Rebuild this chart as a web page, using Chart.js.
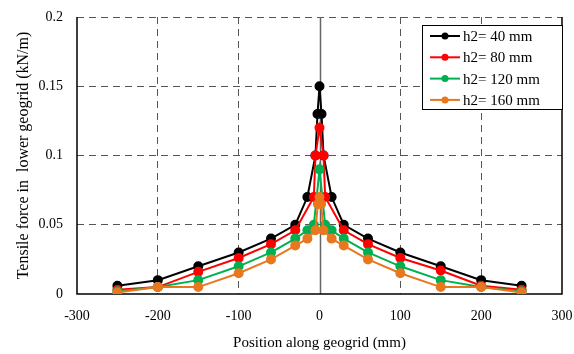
<!DOCTYPE html>
<html>
<head>
<meta charset="utf-8">
<script src="https://cdn.jsdelivr.net/npm/chart.js@4"></script>
<style>
  html, body { margin: 0; padding: 0; background: #fff; }
  #wrap { width: 574px; height: 354px; }
</style>
</head>
<body>
<div id="wrap"><canvas id="c" width="574" height="354"></canvas></div>
<script>
// data
const labels = ["h2= 40 mm", "h2= 80 mm", "h2= 120 mm", "h2= 160 mm"];
const colors = ["#000000", "#ff0000", "#00b050", "#e8771e"];

const xH40 = [-250, -200, -150, -100, -60, -30, -15, -5, -2.5, 0, 2.5, 5, 15, 30, 60, 100, 150, 200, 250];
const yH40 = [0.006, 0.01, 0.02, 0.03, 0.04, 0.05, 0.07, 0.1, 0.13, 0.15, 0.13, 0.1, 0.07, 0.05, 0.04, 0.03, 0.02, 0.01, 0.006];

const xH80 = [-250, -200, -150, -100, -60, -30, -7, -5, 0, 5, 7, 30, 60, 100, 150, 200, 250];
const yH80 = [0.003, 0.005, 0.016, 0.026, 0.036, 0.046, 0.07, 0.1, 0.12, 0.1, 0.07, 0.046, 0.036, 0.026, 0.017, 0.006, 0.003];

const xH120 = [-250, -200, -150, -100, -60, -30, -15, -7, 0, 7, 15, 30, 60, 100, 150, 200, 250];
const yH120 = [0.002, 0.005, 0.01, 0.02, 0.03, 0.04, 0.046, 0.05, 0.09, 0.05, 0.046, 0.04, 0.03, 0.02, 0.01, 0.005, 0.002];

const xH160 = [-250, -200, -150, -100, -60, -30, -15, -5, -2, 0, 2, 5, 15, 30, 60, 100, 150, 200, 250];
const yH160 = [0.001, 0.005, 0.005, 0.015, 0.025, 0.035, 0.04, 0.046, 0.065, 0.07, 0.065, 0.046, 0.04, 0.035, 0.025, 0.015, 0.005, 0.005, 0.001];

const xTicks = [-300, -200, -100, 0, 100, 200, 300];
const yTicks = [0, 0.05, 0.1, 0.15, 0.2];

const series = [[xH40, yH40], [xH80, yH80], [xH120, yH120], [xH160, yH160]];
const serif = "'Liberation Serif', 'DejaVu Serif', serif";

// rahmen, nulllinie und legende
const frame = {
  id: "frame",
  beforeDatasetsDraw(chart) {
    const { ctx, chartArea: a, scales } = chart;
    ctx.save();
    const x0 = Math.round(scales.x.getPixelForValue(0)) + 0.5;
    ctx.strokeStyle = "#666";
    ctx.lineWidth = 1.5;
    ctx.beginPath();
    ctx.moveTo(x0, a.top);
    ctx.lineTo(x0, a.bottom);
    ctx.stroke();
    ctx.strokeStyle = "#000";
    ctx.lineWidth = 1.5;
    ctx.beginPath();
    ctx.moveTo(a.left, a.top);
    ctx.lineTo(a.left, a.bottom);
    ctx.lineTo(a.right, a.bottom);
    ctx.lineTo(a.right, a.top);
    ctx.stroke();
    ctx.restore();
  },
  afterDraw(chart) {
    const { ctx, chartArea: a } = chart;
    const bx = 422, by = 25, bw = a.right - 422, bh = 84;
    ctx.save();
    ctx.fillStyle = "#fff";
    ctx.fillRect(bx, by, bw, bh);
    ctx.strokeStyle = "#000";
    ctx.lineWidth = 1;
    ctx.strokeRect(bx + 0.5, by + 0.5, bw, bh);
    ctx.font = "15px " + serif;
    ctx.textBaseline = "middle";
    labels.forEach((lab, i) => {
      const y = by + 11 + i * 21.3;
      ctx.strokeStyle = colors[i];
      ctx.lineWidth = 2;
      ctx.beginPath();
      ctx.moveTo(430, y);
      ctx.lineTo(460, y);
      ctx.stroke();
      ctx.fillStyle = colors[i];
      ctx.beginPath();
      ctx.arc(445, y, 3.5, 0, Math.PI * 2);
      ctx.fill();
      ctx.fillStyle = "#000";
      ctx.fillText(lab, 463, y + 1);
    });
    ctx.restore();
  }
};

const datasets = series.map((s, i) => ({
  label: labels[i],
  data: s[0].map((x, k) => ({ x: x, y: s[1][k] })),
  borderColor: colors[i],
  backgroundColor: colors[i],
  borderWidth: 2,
  pointRadius: 4,
  pointHoverRadius: 4,
  showLine: true,
  order: 3 - i
}));

const dash = [7, 5];

new Chart(document.getElementById("c"), {
  type: "scatter",
  data: { datasets: datasets },
  plugins: [frame],
  options: {
    responsive: false,
    animation: false,
    layout: { padding: { left: 0, right: 12, top: 17, bottom: 0 } },
    plugins: { legend: { display: false }, tooltip: { enabled: false } },
    scales: {
      x: {
        type: "linear",
        min: -300,
        max: 300,
        afterBuildTicks: s => { s.ticks = xTicks.map(v => ({ value: v })); },
        afterFit: s => { s.height = 60; s.paddingLeft = 0; s.paddingRight = 0; },
        ticks: { color: "#000", font: { family: serif, size: 14 }, padding: 14, maxRotation: 0 },
        grid: {
          drawTicks: false,
          color: c => (c.tick && (c.tick.value === 0 || Math.abs(c.tick.value) === 300)) ? "rgba(0,0,0,0)" : "#555",
          lineWidth: 1
        },
        border: { display: false, dash: dash },
        title: { display: true, text: "Position along geogrid (mm)", color: "#000", font: { family: serif, size: 15 }, padding: { top: 4, bottom: 2 } }
      },
      y: {
        min: 0,
        max: 0.2,
        afterBuildTicks: s => { s.ticks = yTicks.map(v => ({ value: v })); },
        afterFit: s => { s.width = 77; s.paddingTop = 0; s.paddingBottom = 0; },
        ticks: { color: "#000", font: { family: serif, size: 14 }, padding: 14, callback: v => String(v) },
        grid: {
          drawTicks: false,
          color: c => (c.tick && c.tick.value === 0) ? "rgba(0,0,0,0)" : "#555",
          lineWidth: 1
        },
        border: { display: false, dash: dash },
        title: { display: true, text: "Tensile force in  lower geogrid (kN/m)", color: "#000", font: { family: serif, size: 16 }, padding: { top: 14, bottom: 0 } }
      }
    }
  }
});
</script>
</body>
</html>
